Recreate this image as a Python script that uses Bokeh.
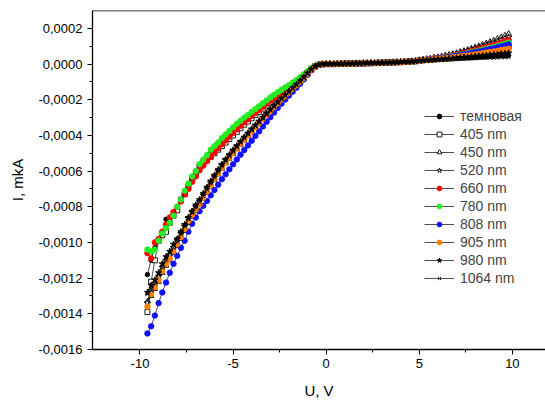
from bokeh.plotting import figure
from bokeh.models import (Range1d, FixedTicker, Legend, LegendItem, Span,
                          CustomJSTickFormatter)
from bokeh.embed import file_html
from bokeh.resources import INLINE

# Voltage, V
U = [-9.6, -9.4, -9.2, -9.0, -8.8, -8.6, -8.4, -8.2, -8.0, -7.8, -7.6, -7.4, -7.2, -7.0, -6.8, -6.6,
     -6.4, -6.2, -6.0, -5.8, -5.6, -5.4, -5.2, -5.0, -4.8, -4.6, -4.4, -4.2, -4.0, -3.8, -3.6, -3.4,
     -3.2, -3.0, -2.8, -2.6, -2.4, -2.2, -2.0, -1.8, -1.6, -1.4, -1.2, -1.0, -0.8, -0.6, -0.4, -0.2,
     0.0, 0.2, 0.4, 0.6, 0.8, 1.0, 1.2, 1.4, 1.6, 1.8, 2.0, 2.2, 2.4, 2.6, 2.8, 3.0, 3.2, 3.4, 3.6,
     3.8, 4.0, 4.2, 4.4, 4.6, 4.8, 5.0, 5.2, 5.4, 5.6, 5.8, 6.0, 6.2, 6.4, 6.6, 6.8, 7.0, 7.2, 7.4,
     7.6, 7.8, 8.0, 8.2, 8.4, 8.6, 8.8, 9.0, 9.2, 9.4, 9.6, 9.8]

# Current, in units of 1e-4 mkA
I_dark = [-11.8, -11.0, -10.3, -9.9, -9.4, -8.7, -8.6, -8.3,
          -8.0, -7.7, -7.2, -6.8, -6.4, -6.0, -5.7, -5.4,
          -5.1, -4.85, -4.6, -4.4, -4.2, -4.0, -3.8, -3.6,
          -3.4, -3.22, -3.04, -2.88, -2.71, -2.55, -2.39, -2.23,
          -2.07, -1.91, -1.75, -1.6, -1.46, -1.33, -1.2, -1.06,
          -0.92, -0.77, -0.6, -0.42, -0.24, -0.11, -0.04, -0.01,
          0.0,
          0.0, 0.0, 0.01, 0.01, 0.02, 0.02, 0.03, 0.03, 0.04, 0.04, 0.05, 0.05,
          0.06, 0.06, 0.07, 0.08, 0.08, 0.09, 0.10, 0.11, 0.12, 0.13, 0.14, 0.15,
          0.18, 0.19, 0.21, 0.22, 0.23, 0.24, 0.25, 0.27, 0.28, 0.29, 0.31, 0.32, 0.33,
          0.34, 0.35, 0.37, 0.38, 0.39, 0.40, 0.42, 0.42, 0.44, 0.46, 0.46, 0.48]
I_405 = [-13.9, -12.2, -11.0, -9.9, -9.6, -9.4, -8.9, -8.5,
         -8.2, -7.6, -7.3, -6.9, -6.4, -6.1, -5.7, -5.55,
         -5.35, -5.2, -5.0, -4.8, -4.6, -4.4, -4.2, -4.0,
         -3.8, -3.6, -3.4, -3.22, -3.04, -2.86, -2.68, -2.5,
         -2.33, -2.16, -1.99, -1.82, -1.66, -1.5, -1.34, -1.18,
         -1.02, -0.85, -0.67, -0.47, -0.27, -0.12, -0.04, -0.01,
         0.0,
         0.0, 0.0, 0.01, 0.01, 0.02, 0.02, 0.03, 0.03, 0.04, 0.04, 0.05, 0.05,
         0.06, 0.07, 0.07, 0.08, 0.09, 0.09, 0.10, 0.11, 0.12, 0.13, 0.15, 0.16,
         0.20, 0.22, 0.23, 0.25, 0.28, 0.30, 0.32, 0.35, 0.37, 0.40, 0.43, 0.46, 0.49,
         0.52, 0.55, 0.59, 0.62, 0.66, 0.70, 0.74, 0.77, 0.82, 0.86, 0.90, 0.95]
I_450 = [-13.3, -13.0, -12.6, -12.2, -11.7, -11.3, -11.0, -10.6,
         -10.2, -9.8, -9.35, -8.9, -8.55, -8.25, -7.9, -7.55,
         -7.2, -6.85, -6.5, -6.18, -5.86, -5.56, -5.3, -5.04,
         -4.78, -4.53, -4.28, -4.04, -3.8, -3.57, -3.34, -3.11,
         -2.89, -2.67, -2.45, -2.23, -2.02, -1.82, -1.62, -1.42,
         -1.22, -1.01, -0.8, -0.57, -0.34, -0.15, -0.05, -0.01,
         0.0,
         0.0, 0.01, 0.01, 0.02, 0.02, 0.03, 0.03, 0.04, 0.04, 0.05, 0.05, 0.06,
         0.06, 0.07, 0.08, 0.08, 0.09, 0.10, 0.11, 0.12, 0.13, 0.14, 0.16, 0.18,
         0.22, 0.25, 0.28, 0.31, 0.35, 0.39, 0.43, 0.47, 0.52, 0.57, 0.62, 0.68, 0.74,
         0.80, 0.87, 0.94, 1.01, 1.09, 1.17, 1.25, 1.33, 1.42, 1.51, 1.60, 1.70]
I_520 = [-13.4, -12.7, -12.3, -11.9, -11.4, -11.0, -10.7, -10.3,
         -9.9, -9.5, -9.1, -8.65, -8.3, -8.0, -7.7, -7.35,
         -7.0, -6.66, -6.32, -6.0, -5.68, -5.4, -5.14, -4.88,
         -4.64, -4.4, -4.16, -3.93, -3.7, -3.47, -3.25, -3.03,
         -2.81, -2.59, -2.38, -2.16, -1.96, -1.76, -1.56, -1.36,
         -1.16, -0.96, -0.75, -0.52, -0.31, -0.14, -0.05, -0.01,
         0.0,
         0.0, 0.0, 0.01, 0.02, 0.02, 0.03, 0.03, 0.04, 0.04, 0.05, 0.05, 0.06,
         0.06, 0.07, 0.08, 0.08, 0.09, 0.10, 0.11, 0.12, 0.13, 0.14, 0.15, 0.17,
         0.21, 0.24, 0.27, 0.30, 0.33, 0.37, 0.40, 0.44, 0.48, 0.53, 0.57, 0.62, 0.67,
         0.73, 0.79, 0.85, 0.91, 0.98, 1.05, 1.12, 1.18, 1.26, 1.34, 1.42, 1.50]
I_660 = [-10.6, -10.9, -10.0, -9.8, -9.4, -9.0, -8.6, -8.3,
         -8.0, -7.7, -7.3, -7.0, -6.6, -6.3, -5.95, -5.7,
         -5.45, -5.2, -4.95, -4.72, -4.5, -4.28, -4.07, -3.86,
         -3.66, -3.46, -3.27, -3.09, -2.91, -2.74, -2.57, -2.4,
         -2.23, -2.06, -1.89, -1.73, -1.57, -1.42, -1.27, -1.12,
         -0.97, -0.81, -0.63, -0.44, -0.25, -0.11, -0.04, -0.01,
         0.0,
         0.0, 0.0, 0.01, 0.01, 0.02, 0.02, 0.03, 0.03, 0.04, 0.04, 0.05, 0.05,
         0.06, 0.07, 0.07, 0.08, 0.09, 0.09, 0.10, 0.11, 0.12, 0.14, 0.15, 0.17,
         0.21, 0.23, 0.26, 0.28, 0.32, 0.35, 0.38, 0.41, 0.45, 0.49, 0.53, 0.58, 0.62,
         0.67, 0.72, 0.77, 0.83, 0.89, 0.95, 1.01, 1.07, 1.13, 1.20, 1.27, 1.34]
I_780 = [-10.4, -10.5, -10.4, -9.9, -9.5, -9.2, -8.9, -8.5,
         -8.0, -7.6, -7.1, -6.7, -6.3, -6.0, -5.6, -5.35,
         -5.1, -4.8, -4.6, -4.4, -4.15, -3.95, -3.75, -3.55,
         -3.35, -3.18, -3.0, -2.85, -2.68, -2.52, -2.36, -2.2,
         -2.04, -1.88, -1.72, -1.58, -1.44, -1.31, -1.18, -1.04,
         -0.9, -0.75, -0.58, -0.4, -0.22, -0.1, -0.04, -0.01,
         0.0,
         0.0, 0.0, 0.01, 0.01, 0.02, 0.02, 0.03, 0.03, 0.04, 0.04, 0.05, 0.05,
         0.06, 0.06, 0.07, 0.08, 0.08, 0.09, 0.10, 0.11, 0.12, 0.13, 0.14, 0.16,
         0.20, 0.23, 0.25, 0.27, 0.30, 0.33, 0.36, 0.39, 0.42, 0.46, 0.49, 0.53, 0.57,
         0.61, 0.66, 0.70, 0.75, 0.80, 0.86, 0.91, 0.96, 1.02, 1.08, 1.13, 1.20]
I_808 = [-15.1, -14.7, -14.1, -13.4, -12.8, -12.25, -11.7, -11.2,
         -10.75, -10.3, -9.9, -9.4, -8.95, -8.6, -8.25, -7.95,
         -7.67, -7.36, -7.06, -6.76, -6.46, -6.18, -5.9, -5.62,
         -5.35, -5.08, -4.82, -4.56, -4.3, -4.03, -3.77, -3.5,
         -3.24, -2.98, -2.72, -2.46, -2.22, -1.99, -1.77, -1.55,
         -1.33, -1.1, -0.86, -0.6, -0.35, -0.15, -0.05, -0.01,
         0.0,
         0.0, 0.0, 0.01, 0.01, 0.02, 0.02, 0.03, 0.03, 0.04, 0.04, 0.05, 0.05,
         0.06, 0.06, 0.07, 0.08, 0.08, 0.09, 0.10, 0.11, 0.12, 0.13, 0.15, 0.16,
         0.20, 0.22, 0.24, 0.27, 0.29, 0.32, 0.34, 0.37, 0.40, 0.43, 0.47, 0.50, 0.54,
         0.57, 0.62, 0.66, 0.70, 0.74, 0.79, 0.84, 0.88, 0.94, 0.99, 1.04, 1.10]
I_905 = [-13.6, -12.9, -12.5, -12.1, -11.6, -11.2, -10.9, -10.5,
         -10.1, -9.7, -9.25, -8.8, -8.45, -8.15, -7.85, -7.5,
         -7.15, -6.8, -6.45, -6.12, -5.8, -5.5, -5.24, -4.98,
         -4.73, -4.48, -4.24, -4.0, -3.77, -3.54, -3.31, -3.08,
         -2.86, -2.64, -2.42, -2.2, -1.99, -1.79, -1.59, -1.39,
         -1.19, -0.98, -0.77, -0.54, -0.32, -0.14, -0.05, -0.01,
         0.0,
         0.0, 0.0, 0.01, 0.01, 0.02, 0.02, 0.03, 0.03, 0.04, 0.04, 0.05, 0.05,
         0.06, 0.06, 0.07, 0.08, 0.08, 0.09, 0.10, 0.11, 0.12, 0.13, 0.14, 0.16,
         0.19, 0.21, 0.23, 0.25, 0.27, 0.29, 0.31, 0.33, 0.35, 0.38, 0.40, 0.43, 0.46,
         0.48, 0.51, 0.54, 0.57, 0.60, 0.64, 0.67, 0.70, 0.74, 0.78, 0.81, 0.85]
I_980 = [-12.8, -12.4, -12.1, -11.7, -11.2, -10.8, -10.5, -10.1,
         -9.8, -9.4, -9.0, -8.6, -8.25, -7.9, -7.6, -7.25,
         -6.9, -6.56, -6.23, -5.92, -5.62, -5.34, -5.08, -4.82,
         -4.58, -4.34, -4.1, -3.87, -3.64, -3.42, -3.2, -2.98,
         -2.76, -2.55, -2.34, -2.13, -1.93, -1.73, -1.53, -1.34,
         -1.14, -0.94, -0.73, -0.51, -0.3, -0.13, -0.05, -0.01,
         0.0,
         0.0, 0.0, 0.01, 0.01, 0.02, 0.02, 0.03, 0.03, 0.04, 0.04, 0.05, 0.05,
         0.06, 0.06, 0.07, 0.07, 0.08, 0.09, 0.10, 0.11, 0.12, 0.13, 0.14, 0.15,
         0.19, 0.20, 0.21, 0.23, 0.24, 0.26, 0.27, 0.29, 0.31, 0.32, 0.34, 0.36, 0.38,
         0.39, 0.41, 0.43, 0.45, 0.47, 0.49, 0.51, 0.53, 0.55, 0.58, 0.59, 0.62]
I_1064 = [-12.9, -12.7, -12.3, -11.8, -11.4, -11.0, -10.6, -10.3,
          -9.95, -9.55, -9.1, -8.7, -8.35, -8.05, -7.75, -7.4,
          -7.05, -6.7, -6.37, -6.05, -5.74, -5.45, -5.18, -4.92,
          -4.67, -4.42, -4.18, -3.95, -3.72, -3.5, -3.28, -3.06,
          -2.84, -2.62, -2.4, -2.19, -1.98, -1.78, -1.58, -1.38,
          -1.18, -0.97, -0.76, -0.53, -0.31, -0.14, -0.05, -0.01,
          0.0,
          0.0, 0.0, 0.01, 0.01, 0.02, 0.02, 0.03, 0.03, 0.04, 0.04, 0.05, 0.05,
          0.06, 0.06, 0.07, 0.07, 0.08, 0.09, 0.10, 0.11, 0.12, 0.13, 0.14, 0.15,
          0.18, 0.19, 0.20, 0.21, 0.22, 0.23, 0.24, 0.25, 0.26, 0.27, 0.28, 0.29, 0.30,
          0.30, 0.31, 0.32, 0.33, 0.33, 0.34, 0.35, 0.35, 0.36, 0.37, 0.37, 0.38]

LABELS = ["темновая", "405 nm", "450 nm", "520 nm", "660 nm", "780 nm",
          "808 nm", "905 nm", "980 nm", "1064 nm"]
SERIES = [I_dark, I_405, I_450, I_520, I_660, I_780, I_808, I_905, I_980, I_1064]
UNIT = 1e-4

X_TICKS = [-10, -5, 0, 5, 10]
X_MINOR = [-7.5, -2.5, 2.5, 7.5]
Y_TICKS = [-0.0016, -0.0014, -0.0012, -0.0010, -0.0008, -0.0006, -0.0004,
           -0.0002, 0.0, 0.0002]
Y_MINOR = [-0.0015, -0.0013, -0.0011, -0.0009, -0.0007, -0.0005, -0.0003,
           -0.0001, 0.0001]
X_LIMITS = (-12.55, 11.78)
Y_LIMITS = (-0.0016, 0.0003)

MARKERS = ["circle", "square", "triangle", "star", "circle", "circle",
           "circle", "circle", "star", "x"]
FILLS = ["black", "white", "white", "white", "#ff0000", "#22ee22",
         "#1010ff", "#ff8000", "black", "black"]
EDGES = ["black", "black", "black", "black", "#ff0000", "#22ee22",
         "#1010ff", "#ff8000", "black", "black"]
SIZES = [4.5, 5, 5.5, 7, 5.5, 5.5, 5.5, 5.5, 6.5, 5.5]

FONT = "Liberation Sans"

p = figure(width=545, height=401, output_backend="svg", toolbar_location=None,
           x_range=Range1d(*X_LIMITS), y_range=Range1d(*Y_LIMITS),
           min_border_left=92, min_border_right=0, min_border_top=10,
           min_border_bottom=52)
p.outline_line_color = None
p.xgrid.visible = False
p.ygrid.visible = False
p.background_fill_color = "white"
p.border_fill_color = "white"

xa = p.xaxis[0]
xa.ticker = FixedTicker(ticks=X_TICKS, minor_ticks=X_MINOR)
xa.formatter = CustomJSTickFormatter(code="return tick.toFixed(0);")
xa.axis_label = "U, V"
ya = p.yaxis[0]
ya.ticker = FixedTicker(ticks=Y_TICKS, minor_ticks=Y_MINOR)
ya.formatter = CustomJSTickFormatter(
    code="return tick.toFixed(4).replace('.', ',');")
ya.axis_label = "I, mkA"

for ax in (xa, ya):
    ax.axis_line_color = "black"
    ax.axis_line_width = 1.3
    ax.major_tick_line_color = "black"
    ax.minor_tick_line_color = "black"
    ax.major_tick_out = 5
    ax.major_tick_in = 0
    ax.minor_tick_out = 3
    ax.minor_tick_in = 0
    ax.major_label_text_font = FONT
    ax.major_label_text_font_size = "13px"
    ax.major_label_text_color = "black"
    ax.axis_label_text_font = FONT
    ax.axis_label_text_font_size = "15px"
    ax.axis_label_text_font_style = "normal"
    ax.axis_label_text_color = "black"
xa.major_label_standoff = 4
xa.axis_label_standoff = 11
ya.major_label_standoff = 5
ya.axis_label_standoff = 9

# top frame line
p.add_layout(Span(location=Y_LIMITS[1], dimension="width",
                  line_color="black", line_width=1.3))

items = []
for lab, ser, mk, fc, ec, sz in zip(LABELS, SERIES, MARKERS, FILLS, EDGES, SIZES):
    assert len(ser) == len(U), (lab, len(ser))
    ys = [v * UNIT for v in ser]
    lr = p.line(U, ys, line_color="black", line_width=0.7)
    sr = p.scatter(U, ys, marker=mk, size=sz, fill_color=fc, line_color=ec,
                   line_width=0.9)
    items.append(LegendItem(label=lab, renderers=[lr, sr]))

leg = Legend(items=items, location=(332, 63), glyph_width=30, glyph_height=12,
             label_height=16, spacing=2, padding=0, margin=0, label_standoff=6,
             label_text_font=FONT, label_text_font_size="14px",
             border_line_color=None, background_fill_alpha=0)
p.add_layout(leg, "center")

open("out.html", "w").write(file_html(p, INLINE))
